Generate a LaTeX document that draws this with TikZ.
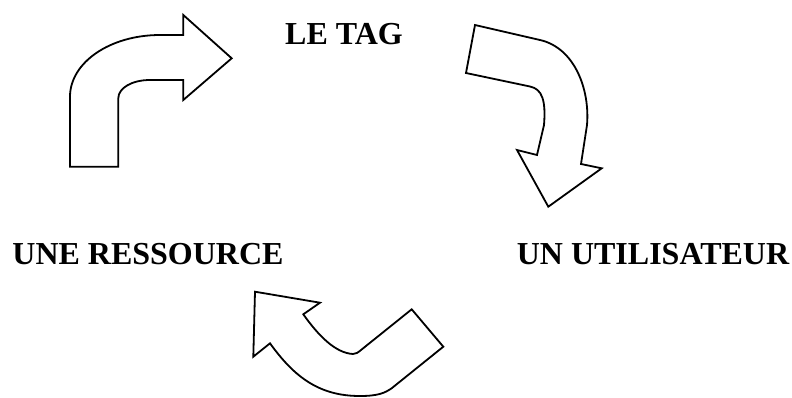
\documentclass[tikz,border=0pt]{standalone}
\usepackage{fontspec}
\setmainfont{Liberation Serif}
\begin{document}
\begin{tikzpicture}[x=1pt, y=-1pt,
  bentarrow/.style={draw=black, fill=white, line width=1.8pt, line join=miter},
  cyclelabel/.style={anchor=base, inner sep=0pt, font=\fontsize{32}{38}\selectfont\bfseries}]
% Set the page size
\useasboundingbox (0,0) rectangle (792,397);

% Draw the three labels
\node[cyclelabel] (tag) at (344,44.5) {LE TAG};
\node[cyclelabel] (ressource) at (148,264) {UNE RESSOURCE};
\node[cyclelabel] (utilisateur) at (653,264) {UN UTILISATEUR};

% Arrow from the resource to the tag
\draw[bentarrow] (70,166.7) -- (118.3,166.7) -- (118.3,98.3)
  .. controls (118.3,88) and (132,80) .. (150,80) -- (183.3,80) -- (183.3,100)
  -- (231.7,58.3) -- (183.3,15) -- (183.3,35) -- (160,35)
  .. controls (110,35) and (70,62.5) .. (70,96.7) -- cycle;

% Arrow from the tag to the user
\draw[bentarrow] (475,25) -- (540,40)
  .. controls (575,48) and (590,90) .. (587,125) -- (581,164)
  -- (601.7,168.3) -- (548.3,206.7) -- (517,150) -- (537,155) -- (544,125)
  .. controls (546,100) and (542,89) .. (530,86.5) -- (466,73) -- cycle;

% Arrow from the user to the resource
\draw[bentarrow] (255,291.7) -- (320,302.7) -- (303.3,314.3)
  .. controls (318,335) and (335,353) .. (353,354)
  .. controls (356,354) and (358,352.5) .. (361,350) -- (411.7,309.3)
  -- (443.3,346.7) -- (392,388)
  .. controls (385,393) and (378,396) .. (360,396)
  .. controls (320,396) and (295,378) .. (270,343.3) -- (253.3,356.7) -- cycle;
\end{tikzpicture}
\end{document}
